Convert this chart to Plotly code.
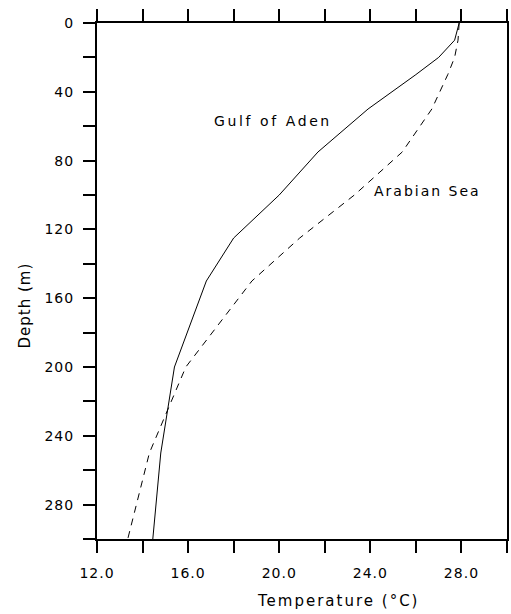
import plotly.graph_objects as go

depth = [0, 10, 20, 30, 50, 75, 100, 125, 150, 200, 250, 300]
gulf_of_aden = [27.9, 27.7, 27.0, 26.0, 23.9, 21.7, 20.0, 18.0, 16.8, 15.4, 14.8, 14.45]
arabian_sea = [27.9, 27.85, 27.7, 27.4, 26.7, 25.4, 23.3, 20.9, 18.8, 15.9, 14.3, 13.35]

x_ticks = [12, 14, 16, 18, 20, 22, 24, 26, 28, 30]
x_labels = ["12.0", "", "16.0", "", "20.0", "", "24.0", "", "28.0", ""]
y_ticks = list(range(0, 301, 20))
y_labels = [str(v) if v % 40 == 0 and v < 300 else "" for v in y_ticks]

FONT = "DejaVu Sans"


def spaced(s, px):
    return '<span style="letter-spacing:%spx">%s</span>' % (px, s) if s else ""


fig = go.Figure()
fig.add_trace(go.Scatter(x=gulf_of_aden, y=depth, mode="lines",
                         line=dict(color="black", width=1), name="Gulf of Aden"))
fig.add_trace(go.Scatter(x=arabian_sea, y=depth, mode="lines",
                         line=dict(color="black", width=1, dash="7px,6px"), name="Arabian Sea"))

fig.update_layout(
    width=511, height=614,
    margin=dict(l=97, r=2, t=23, b=75),
    paper_bgcolor="white", plot_bgcolor="white",
    showlegend=False,
    font=dict(family=FONT, size=14, color="black"),
)
fig.update_xaxes(range=[12, 30], tickvals=x_ticks, ticktext=[spaced(t, 1) for t in x_labels],
                 ticks="outside", ticklen=12, tickwidth=2, tickcolor="black",
                 showline=True, linewidth=2, linecolor="black", mirror="allticks",
                 showgrid=False, zeroline=False, ticklabelstandoff=8,
                 tickfont=dict(family=FONT, size=14))
fig.update_yaxes(range=[300, 0], tickvals=y_ticks, ticktext=[spaced(t, 1) for t in y_labels],
                 ticks="outside", ticklen=12, tickwidth=2, tickcolor="black",
                 showline=True, linewidth=2, linecolor="black", mirror=True,
                 showgrid=False, zeroline=False, ticklabelstandoff=6,
                 tickfont=dict(family=FONT, size=14))

fig.add_annotation(text=spaced("Temperature (°C)", 2), xref="paper", yref="paper",
                   x=0.587, y=-0.120, xanchor="center", yanchor="middle",
                   showarrow=False, font=dict(family=FONT, size=15))
fig.add_annotation(text=spaced("Depth (m)", 1), xref="paper", yref="paper",
                   x=-0.175, y=0.453, xanchor="center", yanchor="middle",
                   textangle=-90, showarrow=False, font=dict(family=FONT, size=15))
fig.add_annotation(text=spaced("Gulf of Aden", 2.6), x=17.07, y=57.2, xanchor="left", yanchor="middle",
                   showarrow=False, font=dict(family=FONT, size=14))
fig.add_annotation(text=spaced("Arabian Sea", 2), x=24.07, y=97.8, xanchor="left", yanchor="middle",
                   showarrow=False, font=dict(family=FONT, size=14))

fig.write_html("out.html")
